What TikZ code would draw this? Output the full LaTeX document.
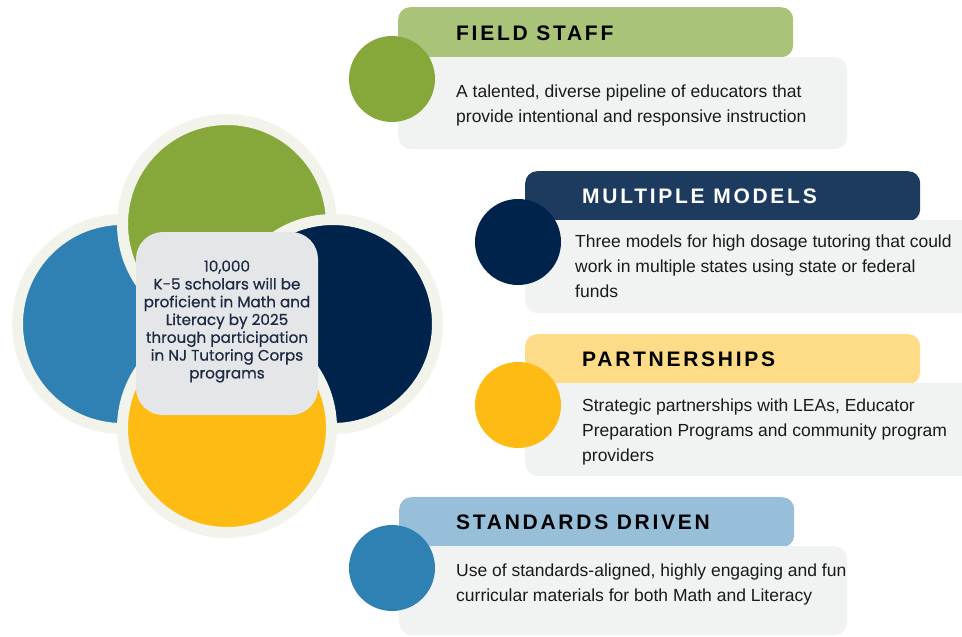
\documentclass[tikz,border=0pt]{standalone}
\usepackage{fontspec}
\setmainfont{Liberation Sans}
\newfontfamily\headfont[LetterSpace=13]{Liberation Sans}
\newfontfamily\hubfont[FakeBold=0.6]{Poppins}

% palette
\definecolor{ringcream}{HTML}{F2F4EC}
\definecolor{leafgreen}{HTML}{86A83B}
\definecolor{deepnavy}{HTML}{00234B}
\definecolor{sunyellow}{HTML}{FDBB13}
\definecolor{oceanblue}{HTML}{2E81B2}
\definecolor{hubgray}{HTML}{E5E6E8}
\definecolor{hubink}{HTML}{1E2A45}
\definecolor{headgreen}{HTML}{A9C479}
\definecolor{headnavy}{HTML}{1D3A5F}
\definecolor{headyellow}{HTML}{FEDB86}
\definecolor{headblue}{HTML}{97BFDA}
\definecolor{panelgray}{HTML}{F1F2F2}
\definecolor{bodyink}{HTML}{1A1A1A}

\begin{document}
\begin{tikzpicture}[x=1pt,y=-1pt,
  petal/.style={circle, inner sep=0pt, minimum size=209pt, draw=ringcream, line width=11pt},
  hubbox/.style={fill=hubgray, rounded corners=27pt, inner sep=0pt, minimum width=182pt, minimum height=183pt},
  hubtext/.style={font=\hubfont\fontsize{15.2}{17.8}\selectfont, text=hubink, align=center, inner sep=0pt},
  headbar/.style={anchor=north west, rounded corners=12pt, inner sep=0pt, minimum width=395pt, minimum height=50pt},
  panel/.style={anchor=north west, fill=panelgray, rounded corners=13pt, inner sep=0pt},
  dot/.style={circle, inner sep=0pt, minimum size=86pt},
  headtext/.style={anchor=base west, inner sep=0pt, font=\headfont\bfseries\fontsize{21}{21}\selectfont},
  % anchored at the baseline of the last line
  bodytext/.style={anchor=base west, inner sep=0pt, align=left, text=bodyink, font=\fontsize{17.5}{25}\selectfont}
]
\useasboundingbox (0,0) rectangle (962,637);
\clip (0,0) rectangle (962,637);
\fill[white] (0,0) rectangle (962,637);

% four overlapping petals, then the central card
\node[petal, fill=oceanblue] (pBlue)   at (122,324) {};
\node[petal, fill=leafgreen] (pGreen)  at (227,224) {};
\node[petal, fill=deepnavy]  (pNavy)   at (333,324) {};
\node[petal, fill=sunyellow] (pYellow) at (227,428) {};
\node[hubbox] (hub) at (227,323.5) {};
\node[hubtext] (hubLabel) at (227,321.5) {10,000\\K-5 scholars will be\\proficient in Math and\\Literacy by 2025\\through participation\\in NJ Tutoring Corps\\programs};

% Field staff
\node[headbar, fill=headgreen] (fsHead) at (398,7) {};
\node[panel, minimum width=449pt, minimum height=92pt] (fsPanel) at (398,57) {};
\node[dot, fill=leafgreen] (fsDot) at (392,79) {};
\node[headtext, text=black] (fsTitle) at (456,40) {FIELD STAFF};
\node[bodytext] (fsBody) at (456,122) {A talented, diverse pipeline of educators that\\provide intentional and responsive instruction};

% Multiple models
\node[headbar, fill=headnavy] (mmHead) at (525,171) {};
\node[panel, minimum width=480pt, minimum height=93pt] (mmPanel) at (525,220) {};
\node[dot, fill=deepnavy] (mmDot) at (518,242) {};
\node[headtext, text=white] (mmTitle) at (582,203) {MULTIPLE MODELS};
\node[bodytext] (mmBody) at (575,297) {Three models for high dosage tutoring that could\\work in multiple states using state or federal\\funds};

% Partnerships
\node[headbar, fill=headyellow] (ptHead) at (525,334) {};
\node[panel, minimum width=480pt, minimum height=93pt] (ptPanel) at (525,383) {};
\node[dot, fill=sunyellow] (ptDot) at (518,405) {};
\node[headtext, text=black] (ptTitle) at (582,366) {PARTNERSHIPS};
\node[bodytext] (ptBody) at (582,461) {Strategic partnerships with LEAs, Educator\\Preparation Programs and community program\\providers};

% Standards driven
\node[headbar, fill=headblue] (sdHead) at (399,497) {};
\node[panel, minimum width=448pt, minimum height=89pt] (sdPanel) at (399,546) {};
\node[dot, fill=oceanblue] (sdDot) at (392,568) {};
\node[headtext, text=black] (sdTitle) at (456,529) {STANDARDS DRIVEN};
\node[bodytext] (sdBody) at (456,601) {Use of standards-aligned, highly engaging and fun\\curricular materials for both Math and Literacy};
\end{tikzpicture}
\end{document}
